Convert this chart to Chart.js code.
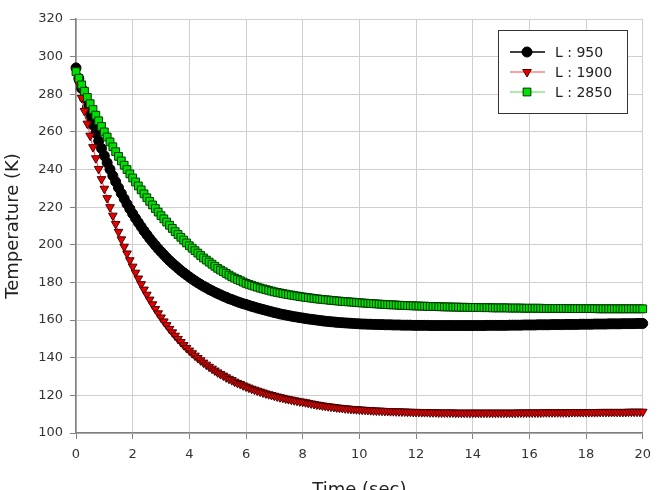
<!DOCTYPE html>
<html>
<head>
<meta charset="utf-8">
<title>Temperature vs Time</title>
<script src="https://cdn.jsdelivr.net/npm/chart.js@4.4.1/dist/chart.umd.min.js"></script>
<style>
  html, body { margin: 0; padding: 0; background: #fff; }
  #wrap { width: 659px; height: 490px; }
</style>
</head>
<body>
<div id="wrap"><canvas id="tempChart" width="659" height="490"></canvas></div>
<script>
// ============ 1. DATA =====================================
const seriesLabels = ["L : 950", "L : 1900", "L : 2850"];
const xTicks = [0, 2, 4, 6, 8, 10, 12, 14, 16, 18, 20];
const yTicks = [100, 120, 140, 160, 180, 200, 220, 240, 260, 280, 300, 320];

// time grid, 0.1 s steps from 0 to 20 s
const timeSec = Array.from({ length: 201 }, (_, i) => i / 10);

const tempL950 = [
  294.0, 288.4, 283.1, 277.9, 273.0, 268.2, 263.7, 259.3, 255.2, 251.2, 247.3,
  243.6, 240.1, 236.7, 233.5, 230.3, 227.3, 224.5, 221.7, 219.1, 216.5,
  214.1, 211.8, 209.6, 207.4, 205.4, 203.4, 201.5, 199.7, 197.9, 196.3,
  194.7, 193.1, 191.6, 190.2, 188.9, 187.6, 186.3, 185.1, 184.0, 182.9,
  181.8, 180.8, 179.8, 178.9, 178.0, 177.2, 176.3, 175.6, 174.8, 174.1,
  173.4, 172.7, 172.1, 171.4, 170.9, 170.3, 169.7, 169.2, 168.7, 168.3,
  167.8, 167.3, 166.9, 166.4, 166.0, 165.6, 165.2, 164.8, 164.4, 164.0,
  163.7, 163.3, 163.0, 162.7, 162.4, 162.1, 161.8, 161.6, 161.3, 161.1,
  160.8, 160.6, 160.4, 160.2, 160.0, 159.8, 159.6, 159.4, 159.3, 159.1,
  159.0, 158.8, 158.7, 158.6, 158.5, 158.4, 158.3, 158.2, 158.1, 158.0,
  157.9, 157.9, 157.8, 157.8, 157.7, 157.7, 157.6, 157.6, 157.5, 157.5,
  157.5, 157.4, 157.4, 157.4, 157.3, 157.3, 157.3, 157.3, 157.2, 157.2,
  157.2, 157.2, 157.2, 157.2, 157.1, 157.1, 157.1, 157.1, 157.1, 157.1,
  157.1, 157.1, 157.1, 157.1, 157.1, 157.1, 157.1, 157.1, 157.1, 157.1,
  157.1, 157.1, 157.1, 157.1, 157.2, 157.2, 157.2, 157.2, 157.2, 157.2,
  157.2, 157.2, 157.3, 157.3, 157.3, 157.3, 157.3, 157.4, 157.4, 157.4,
  157.4, 157.4, 157.5, 157.5, 157.5, 157.5, 157.5, 157.6, 157.6, 157.6,
  157.6, 157.6, 157.7, 157.7, 157.7, 157.7, 157.7, 157.8, 157.8, 157.8,
  157.8, 157.8, 157.9, 157.9, 157.9, 157.9, 157.9, 158.0, 158.0, 158.0,
  158.0, 158.0, 158.1, 158.1, 158.1, 158.1, 158.1, 158.2, 158.2, 158.2
];

const tempL1900 = [
  293.0, 285.4, 278.1, 271.1, 264.4, 258.0, 251.9, 246.0, 240.3, 234.9, 229.8,
  224.8, 220.0, 215.5, 211.1, 206.9, 202.9, 199.0, 195.4, 191.8, 188.4,
  185.2, 182.1, 179.1, 176.2, 173.5, 170.9, 168.4, 165.9, 163.6, 161.4,
  159.3, 157.3, 155.3, 153.5, 151.7, 150.0, 148.3, 146.7, 145.2, 143.8,
  142.4, 141.1, 139.8, 138.6, 137.4, 136.3, 135.2, 134.2, 133.2, 132.2,
  131.3, 130.5, 129.6, 128.8, 128.1, 127.3, 126.6, 126.0, 125.3, 124.7,
  124.1, 123.5, 123.0, 122.5, 122.0, 121.5, 121.0, 120.6, 120.2, 119.8,
  119.4, 119.0, 118.7, 118.3, 118.0, 117.7, 117.4, 117.1, 116.8, 116.6,
  116.3, 116.0, 115.7, 115.4, 115.1, 114.9, 114.6, 114.4, 114.2, 114.0,
  113.8, 113.6, 113.4, 113.3, 113.1, 113.0, 112.8, 112.7, 112.6, 112.5,
  112.4, 112.3, 112.2, 112.1, 112.0, 111.9, 111.9, 111.8, 111.7, 111.7,
  111.6, 111.6, 111.5, 111.5, 111.4, 111.4, 111.3, 111.3, 111.2, 111.2,
  111.2, 111.1, 111.1, 111.1, 111.0, 111.0, 111.0, 110.9, 110.9, 110.9,
  110.9, 110.9, 110.9, 110.8, 110.8, 110.8, 110.8, 110.8, 110.8, 110.8,
  110.8, 110.8, 110.8, 110.8, 110.8, 110.8, 110.8, 110.8, 110.8, 110.8,
  110.8, 110.8, 110.8, 110.8, 110.8, 110.9, 110.9, 110.9, 110.9, 110.9,
  110.9, 110.9, 110.9, 110.9, 111.0, 111.0, 111.0, 111.0, 111.0, 111.0,
  111.0, 111.0, 111.0, 111.0, 111.1, 111.1, 111.1, 111.1, 111.1, 111.1,
  111.1, 111.1, 111.1, 111.1, 111.2, 111.2, 111.2, 111.2, 111.2, 111.2,
  111.2, 111.2, 111.2, 111.2, 111.3, 111.3, 111.3, 111.3, 111.3, 111.3
];

const tempL2850 = [
  292.0, 288.5, 285.0, 281.6, 278.3, 275.0, 271.9, 268.9, 265.9, 262.9, 260.0,
  257.3, 254.7, 252.1, 249.5, 247.0, 244.6, 242.3, 240.0, 237.7, 235.5,
  233.4, 231.3, 229.2, 227.1, 225.0, 223.1, 221.2, 219.3, 217.4, 215.5,
  213.8, 212.1, 210.4, 208.7, 207.0, 205.5, 204.0, 202.5, 201.0, 199.5,
  198.2, 196.9, 195.6, 194.3, 193.0, 191.9, 190.8, 189.7, 188.6, 187.5,
  186.6, 185.7, 184.8, 183.9, 183.0, 182.3, 181.6, 180.9, 180.2, 179.5,
  179.0, 178.5, 178.0, 177.5, 177.0, 176.6, 176.2, 175.8, 175.4, 175.0,
  174.7, 174.4, 174.1, 173.8, 173.5, 173.3, 173.0, 172.8, 172.5, 172.3,
  172.1, 171.9, 171.7, 171.5, 171.3, 171.1, 171.0, 170.8, 170.7, 170.5,
  170.4, 170.2, 170.1, 169.9, 169.8, 169.7, 169.6, 169.5, 169.3, 169.2,
  169.1, 169.0, 168.9, 168.8, 168.7, 168.6, 168.5, 168.4, 168.3, 168.2,
  168.1, 168.1, 168.0, 167.9, 167.8, 167.8, 167.7, 167.6, 167.6, 167.5,
  167.5, 167.4, 167.4, 167.3, 167.3, 167.2, 167.2, 167.1, 167.1, 167.0,
  167.0, 167.0, 166.9, 166.9, 166.9, 166.8, 166.8, 166.8, 166.7, 166.7,
  166.7, 166.7, 166.6, 166.6, 166.6, 166.6, 166.5, 166.5, 166.5, 166.5,
  166.5, 166.5, 166.4, 166.4, 166.4, 166.4, 166.4, 166.3, 166.3, 166.3,
  166.3, 166.3, 166.3, 166.3, 166.2, 166.2, 166.2, 166.2, 166.2, 166.2,
  166.2, 166.2, 166.2, 166.1, 166.1, 166.1, 166.1, 166.1, 166.1, 166.1,
  166.1, 166.1, 166.1, 166.0, 166.0, 166.0, 166.0, 166.0, 166.0, 166.0,
  166.0, 166.0, 166.0, 166.0, 166.0, 166.0, 166.0, 166.0, 166.0, 166.0
];

// ============ 2. HELPERS ==============
function toPoints(values) {
  return values.map((v, i) => ({ x: timeSec[i], y: v }));
}

Chart.defaults.font.family = "'DejaVu Sans', Verdana, sans-serif";
Chart.defaults.color = "#333333";

// Legend box drawn by hand: line + marker + text, like the spreadsheet legend
const boxLegend = {
  id: "boxLegend",
  afterDraw(chart) {
    const ctx = chart.ctx;
    const left = 498, top = 30, w = 129, h = 83;
    ctx.save();
    ctx.fillStyle = "#ffffff";
    ctx.fillRect(left, top, w, h);
    ctx.strokeStyle = "#333333";
    ctx.lineWidth = 1;
    ctx.strokeRect(left + 0.5, top + 0.5, w, h);

    chart.data.datasets.forEach((ds, i) => {
      const y = 52 + i * 20;
      ctx.strokeStyle = ds.borderColor;
      ctx.lineWidth = ds.borderWidth;
      ctx.beginPath();
      ctx.moveTo(510, y);
      ctx.lineTo(545, y);
      ctx.stroke();

      ctx.fillStyle = ds.pointBackgroundColor;
      ctx.strokeStyle = ds.pointBorderColor;
      ctx.lineWidth = 1;
      Chart.helpers.drawPoint(ctx, {
        pointStyle: ds.pointStyle,
        rotation: ds.pointRotation || 0,
        radius: ds.pointRadius,
        borderWidth: 1
      }, 527, y);

      ctx.fillStyle = "#222222";
      ctx.font = "14px 'DejaVu Sans', Verdana, sans-serif";
      ctx.textBaseline = "middle";
      ctx.textAlign = "left";
      ctx.fillText(ds.label, 555, y + 1);
    });
    ctx.restore();
  }
};

// ============ 3. CHART ==============
const ctx = document.getElementById("tempChart").getContext("2d");
new Chart(ctx, {
  type: "line",
  data: {
    datasets: [
      {
        label: seriesLabels[0],
        data: toPoints(tempL950),
        borderColor: "#000000",
        borderWidth: 1.5,
        pointStyle: "circle",
        pointRadius: 5,
        pointBackgroundColor: "#000000",
        pointBorderColor: "#000000",
        pointBorderWidth: 1,
        order: 3,
        clip: false
      },
      {
        label: seriesLabels[1],
        data: toPoints(tempL1900),
        borderColor: "#ff4040",
        borderWidth: 1,
        pointStyle: "triangle",
        pointRotation: 180,
        pointRadius: 5,
        pointBackgroundColor: "#e80000",
        pointBorderColor: "#4a0000",
        pointBorderWidth: 1,
        order: 2,
        clip: false
      },
      {
        label: seriesLabels[2],
        data: toPoints(tempL2850),
        borderColor: "#50d850",
        borderWidth: 1,
        pointStyle: "rect",
        pointRadius: 5.5,
        pointBackgroundColor: "#00e000",
        pointBorderColor: "#003800",
        pointBorderWidth: 1,
        order: 1,
        clip: false
      }
    ]
  },
  options: {
    responsive: false,
    animation: false,
    events: [],
    layout: { padding: { left: 0, right: 16, top: 19, bottom: 0 } },
    plugins: {
      legend: { display: false },
      tooltip: { enabled: false }
    },
    scales: {
      x: {
        type: "linear",
        min: 0,
        max: 20,
        afterBuildTicks: (scale) => { scale.ticks = xTicks.map(v => ({ value: v })); },
        afterFit: (scale) => { scale.height = 57; },
        ticks: { font: { size: 13 }, padding: 8, color: "#333333", maxRotation: 0 },
        grid: { color: "#cfcfcf", lineWidth: 1, tickLength: 6, tickColor: "#808080" },
        border: { color: "#808080", width: 1.5 },
        title: {
          display: true,
          text: "Time (sec)",
          font: { size: 18 },
          color: "#222222",
          padding: { top: 0, bottom: -11 }
        }
      },
      y: {
        min: 100,
        max: 320,
        afterBuildTicks: (scale) => { scale.ticks = yTicks.map(v => ({ value: v })); },
        afterFit: (scale) => { scale.width = 76; },
        ticks: { font: { size: 13 }, padding: 7, color: "#333333" },
        grid: { color: "#cfcfcf", lineWidth: 1, tickLength: 6, tickColor: "#808080" },
        border: { color: "#808080", width: 1.5 },
        title: {
          display: true,
          text: "Temperature (K)",
          font: { size: 18 },
          color: "#222222",
          padding: { top: 3, bottom: 0 }
        }
      }
    }
  },
  plugins: [boxLegend]
});
</script>
</body>
</html>
